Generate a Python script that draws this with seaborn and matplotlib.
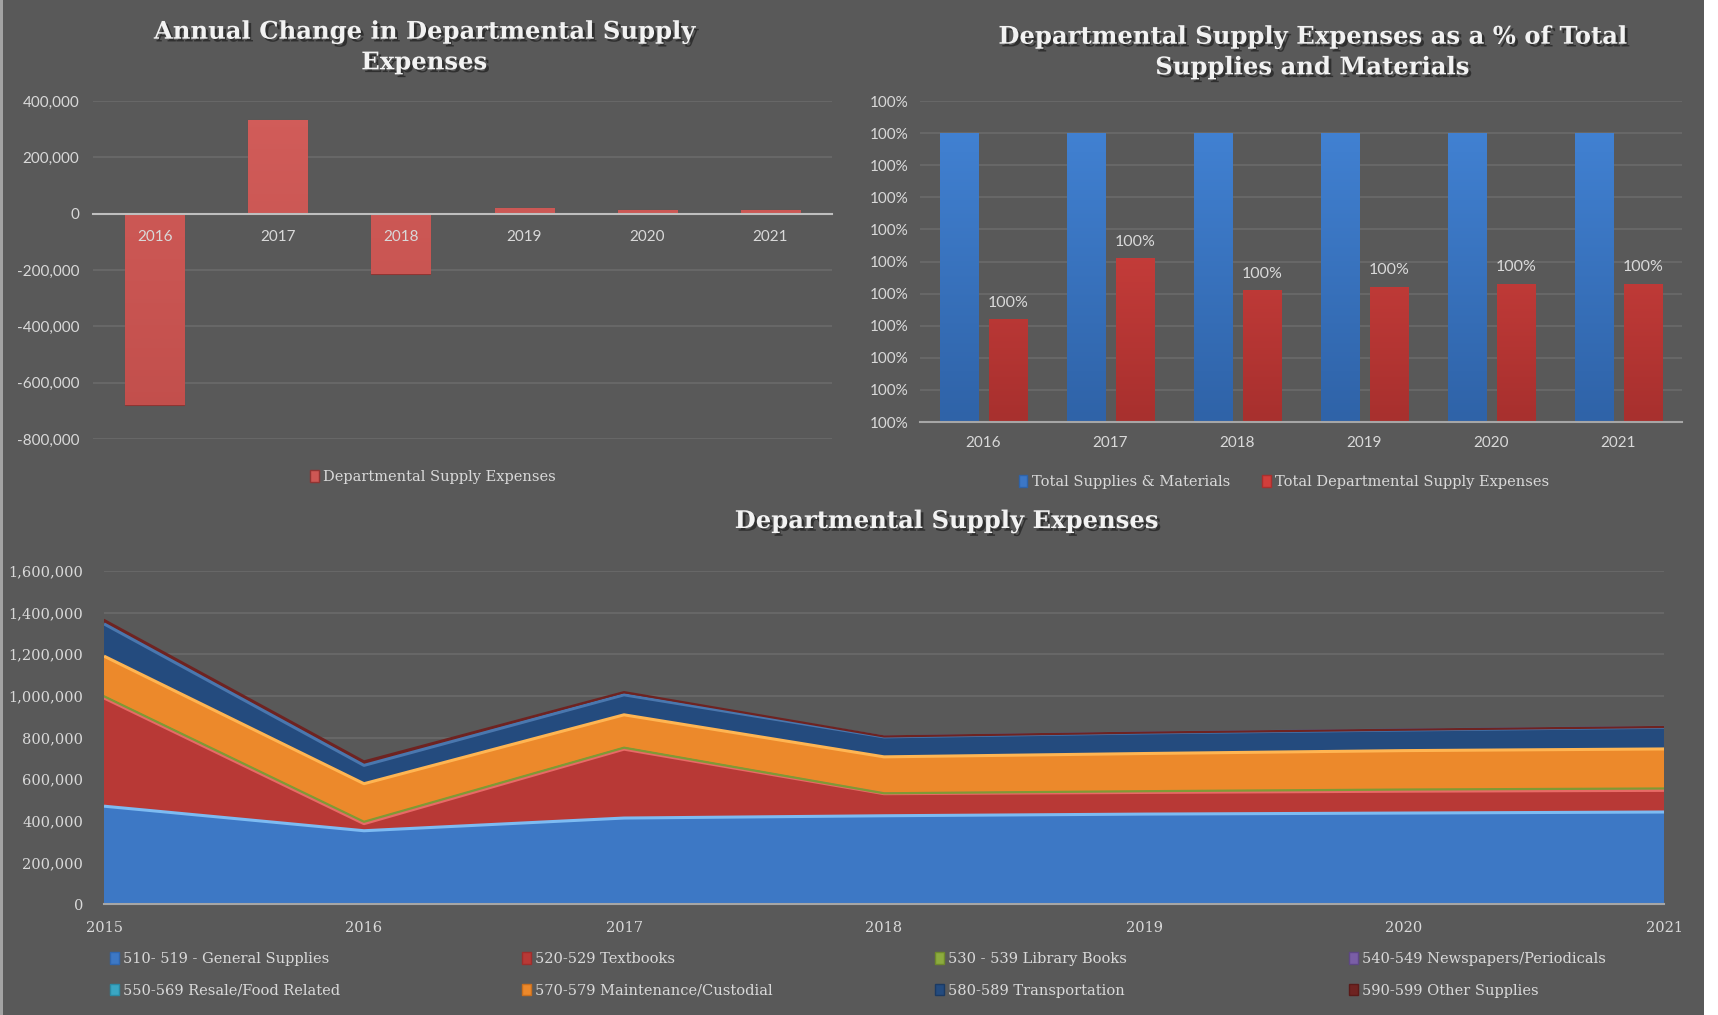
import numpy as np
import pandas as pd
import matplotlib
matplotlib.use("Agg")
import matplotlib.pyplot as plt
import matplotlib.patheffects as pe
from matplotlib.patches import Rectangle, Patch
from matplotlib.ticker import FuncFormatter, PercentFormatter
import seaborn as sns

# ---- data -------------------------------------------------------------
years = [2015, 2016, 2017, 2018, 2019, 2020, 2021]

general_supplies = [470000, 352000, 413000, 424000, 432000, 437000, 442000]
textbooks = [520000, 34000, 331000, 106000, 104000, 105000, 104000]
library_books = [8000, 9000, 7000, 2000, 6000, 8000, 9000]
newspapers = [3000, 2000, 3000, 3000, 1000, 1000, 1000]
resale_food = [0, 0, 0, 0, 0, 0, 0]
maintenance = [190000, 181000, 155000, 172000, 180000, 186000, 189000]
transportation = [155000, 88000, 96000, 96000, 99000, 99000, 104000]
other_supplies = [19000, 19000, 13000, 2000, 1500, 1500, 1500]

series_labels = [
    "510- 519 - General Supplies",
    "520-529 Textbooks",
    "530 - 539 Library Books",
    "540-549 Newspapers/Periodicals",
    "550-569 Resale/Food Related",
    "570-579 Maintenance/Custodial",
    "580-589 Transportation",
    "590-599 Other Supplies",
]

share_years = [2016, 2017, 2018, 2019, 2020, 2021]
share_total_materials = [1.0, 1.0, 1.0, 1.0, 1.0, 1.0]
share_departmental = [0.99942, 0.99961, 0.99951, 0.99952, 0.99953, 0.99953]

# ---- style ------------------------------------------------------------
sns.set_theme(style="white")
plt.rcParams["font.family"] = ["DejaVu Serif"]

BG = "#595959"
TXT = "#D9D9D9"
GRID = "#6C6C6C"
AXIS = "#A6A6A6"
SANS = ["Lato", "DejaVu Sans"]
SERIF = ["DejaVu Serif"]

W, H = 1718, 1015
fig = plt.figure(figsize=(W / 100, H / 100), dpi=100, facecolor="white")
fig.patches.append(Rectangle((3 / W, 0), (1704 - 3) / W, 1, transform=fig.transFigure,
                             facecolor=BG, edgecolor="none", zorder=-10))
fig.patches.append(Rectangle((0, 0), 3 / W, 1, transform=fig.transFigure,
                             facecolor="#A3A3A3", edgecolor="none", zorder=-10))

shadow = [pe.withSimplePatchShadow(offset=(2, -2), shadow_rgbFace="black", alpha=0.45)]


def title(x, y, s):
    fig.text(x / W, 1 - y / H, s, ha="center", va="center", color="#F2F2F2",
             family=SERIF, fontweight="bold", fontsize=17.5, linespacing=1.35,
             path_effects=shadow)


def axes_at(x0, y0, x1, y1):
    ax = fig.add_axes([x0 / W, 1 - y1 / H, (x1 - x0) / W, (y1 - y0) / H])
    ax.set_facecolor("none")
    for s in ax.spines.values():
        s.set_visible(False)
    ax.set_axisbelow(True)
    ax.yaxis.grid(True, color=GRID, linewidth=1.1)
    ax.xaxis.grid(False)
    return ax


def shade_bars(ax, container, light, dark):
    # vertical light-to-dark gradient clipped to each bar
    grad = np.linspace(0, 1, 64).reshape(-1, 1)
    cmap = matplotlib.colors.LinearSegmentedColormap.from_list("g", [light, dark])
    y0, y1 = ax.get_ylim()
    for bar in container:
        x = bar.get_x()
        w = bar.get_width()
        im = ax.imshow(grad, extent=(x, x + w, y0, y1), origin="upper", cmap=cmap,
                       aspect="auto", zorder=bar.get_zorder() + 0.01, interpolation="bilinear")
        im.set_clip_path(bar)
    ax.set_xlim(-0.5, len(container) - 0.5)


thousands = FuncFormatter(lambda v, p: f"{v:,.0f}")
legend_kw = dict(frameon=False, handlelength=0.6, handleheight=0.8, handletextpad=0.3,
                 labelcolor=TXT, prop={"family": SERIF, "size": 10.5})

# ---- annual change ----------------------------------------------------
totals = np.sum([general_supplies, textbooks, library_books, newspapers, resale_food,
                 maintenance, transportation, other_supplies], axis=0)
annual_change = np.diff(totals)

ax1 = axes_at(93, 101, 832, 439)
sns.barplot(x=years[1:], y=annual_change, color="#CD5754", saturation=1, width=0.48,
            edgecolor="#8F3533", linewidth=0.8, ax=ax1)
ax1.set_ylim(-800000, 400000)
ax1.set_yticks(np.arange(-800000, 400001, 200000))
ax1.yaxis.set_major_formatter(thousands)
shade_bars(ax1, ax1.containers[0], "#D25D5A", "#C14E4B")
ax1.spines["bottom"].set_visible(True)
ax1.spines["bottom"].set_position(("data", 0))
ax1.spines["bottom"].set_color("#BFBFBF")
ax1.spines["bottom"].set_linewidth(1.5)
ax1.spines["bottom"].set_zorder(4)
ax1.xaxis.set_zorder(3)
ax1.tick_params(axis="x", length=0, pad=12, colors=TXT, labelsize=11)
ax1.tick_params(axis="y", length=0, pad=10, colors=TXT, labelsize=11)
for lab in ax1.get_xticklabels() + ax1.get_yticklabels():
    lab.set_family(SANS)
ax1.set_xlabel("")
title(424, 47, "Annual Change in Departmental Supply\nExpenses")
fig.legend(handles=[Patch(facecolor="#CD5754", edgecolor="#8F3533")],
           labels=["Departmental Supply Expenses"], loc="center",
           bbox_to_anchor=(433 / W, 1 - 477 / H), **legend_kw)

# ---- share of total supplies -----------------------------------------
share_df = pd.DataFrame({
    "year": share_years * 2,
    "share": share_total_materials + share_departmental,
    "series": ["Total Supplies & Materials"] * 6 + ["Total Departmental Supply Expenses"] * 6,
})
ax2 = axes_at(920, 101, 1682, 422)
sns.barplot(data=share_df, x="year", y="share", hue="series",
            palette=["#3C77C6", "#D13E3B"], saturation=1, width=0.76, gap=0.21,
            edgecolor="#3A3A3A", linewidth=0.4, legend=False, ax=ax2)
ax2.set_ylim(0.9991, 1.0001)
ax2.set_yticks(0.9991 + 0.0001 * np.arange(11))
ax2.yaxis.set_major_formatter(PercentFormatter(xmax=1, decimals=0))
ax2.spines["bottom"].set_visible(True)
ax2.spines["bottom"].set_color(AXIS)
ax2.spines["bottom"].set_linewidth(1.5)
ax2.spines["bottom"].set_zorder(4)
ax2.tick_params(axis="x", length=0, pad=10, colors=TXT, labelsize=11)
ax2.tick_params(axis="y", length=0, pad=8, colors=TXT, labelsize=11)
for lab in ax2.get_xticklabels() + ax2.get_yticklabels():
    lab.set_family(SANS)
ax2.set_xlabel("")
ax2.set_ylabel("")
labels = ax2.bar_label(ax2.containers[1], fmt="{:.0%}", padding=7, color=TXT, fontsize=11.5)
for t in labels:
    t.set_family(SANS)
shade_bars(ax2, ax2.containers[0], "#4384D6", "#2F63A8")
shade_bars(ax2, ax2.containers[1], "#DD4744", "#A8302E")
title(1312, 52, "Departmental Supply Expenses as a % of Total\nSupplies and Materials")
fig.legend(handles=[Patch(facecolor="#3C77C6", edgecolor="#2F63A8"),
                    Patch(facecolor="#D13E3B", edgecolor="#A8302E")],
           labels=["Total Supplies & Materials", "Total Departmental Supply Expenses"],
           loc="center", ncol=2, bbox_to_anchor=(1284 / W, 1 - 482 / H),
           columnspacing=2.2, **legend_kw)

# ---- stacked expenses -------------------------------------------------
stack = [general_supplies, textbooks, library_books, newspapers, resale_food,
         maintenance, transportation, other_supplies]
fills = ["#3D78C5", "#B83936", "#8CAB3E", "#7A5EA6", "#3AA6C3", "#EC892B", "#244B7E", "#6E2321"]
edges = ["#3066AE", "#9E2E2C", "#6F8A2C", "#5E4785", "#2B8AA3", "#C96F1E", "#1B3A63", "#5A1A18"]
highlights = ["#7DBBF2", "#E86A66", None, None, None, "#FFB552", "#4A77AE", None]

ax3 = axes_at(104, 571, 1664, 904)
ax3.stackplot(years, *stack, colors=fills, edgecolor="none", zorder=2)
tops = np.cumsum(stack, axis=0)
for top, hc in zip(tops, highlights):
    if hc is not None:
        ax3.plot(years, top, color=hc, linewidth=2.2, zorder=3, solid_capstyle="butt")
ax3.plot(years, tops[2], color="#7F9A35", linewidth=1.6, zorder=3)
ax3.plot(years, tops[-1], color="#6E2321", linewidth=1.6, zorder=3)
ax3.set_xlim(2015, 2021)
ax3.set_ylim(0, 1600000)
ax3.set_yticks(np.arange(0, 1600001, 200000))
ax3.set_xticks(years)
ax3.yaxis.set_major_formatter(thousands)
ax3.spines["bottom"].set_visible(True)
ax3.spines["bottom"].set_color(AXIS)
ax3.spines["bottom"].set_linewidth(1.5)
ax3.tick_params(axis="x", length=6, width=1, direction="out", pad=6,
                colors=TXT, labelsize=10.5)
ax3.tick_params(axis="x", color=AXIS)
ax3.tick_params(axis="y", length=0, pad=15, colors=TXT, labelsize=10.5)
for lab in ax3.get_xticklabels() + ax3.get_yticklabels():
    lab.set_family(SERIF)
title(946, 521, "Departmental Supply Expenses")

handles = [Patch(facecolor=c, edgecolor=e) for c, e in zip(fills, edges)]
col_x = [110, 522, 935, 1349]
for j, x in enumerate(col_x):
    fig.legend(handles=[handles[j], handles[j + 4]],
               labels=[series_labels[j], series_labels[j + 4]],
               loc="upper left", bbox_to_anchor=(x / W, 1 - 952 / H),
               labelspacing=1.2, borderaxespad=0, borderpad=0, **legend_kw)

fig.savefig("out.png", dpi=100, facecolor=fig.get_facecolor())
